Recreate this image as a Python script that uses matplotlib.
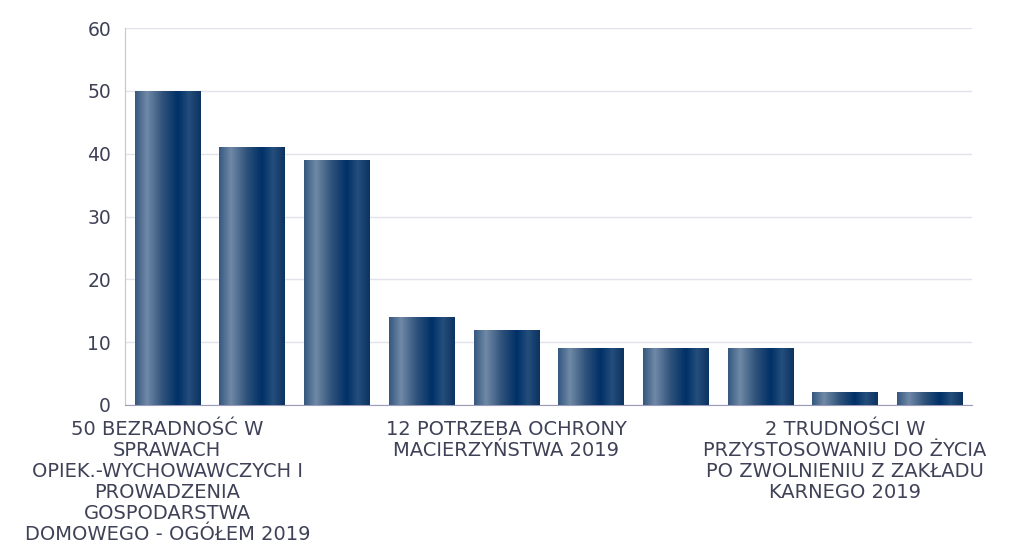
import numpy as np
import matplotlib
matplotlib.use('Agg')
import matplotlib.pyplot as plt
from matplotlib.colors import LinearSegmentedColormap

plt.rcParams['font.family'] = ['DejaVu Sans']

values = [50, 41, 39, 14, 12, 9, 9, 9, 2, 2]
tick_pos = [0, 4, 8]
tick_labels = [
    "50 BEZRADNOŚĆ W\nSPRAWACH\nOPIEK.-WYCHOWAWCZYCH I\nPROWADZENIA\nGOSPODARSTWA\nDOMOWEGO - OGÓŁEM 2019",
    "12 POTRZEBA OCHRONY\nMACIERZYŃSTWA 2019",
    "2 TRUDNOŚCI W\nPRZYSTOSOWANIU DO ŻYCIA\nPO ZWOLNIENIU Z ZAKŁADU\nKARNEGO 2019",
]
y_ticks = [0, 10, 20, 30, 40, 50, 60]

text_color = '#3f4257'
# gradient poziomy na słupkach: jaśniej z lewej, granat z prawej
grad = LinearSegmentedColormap.from_list('bar', [
    (0.0, '#35587f'),
    (0.18, '#7089a7'),
    (0.42, '#2f527a'),
    (0.65, '#003068'),
    (0.82, '#244e7c'),
    (1.0, '#0d3360'),
])

fig = plt.figure(figsize=(10.1, 5.5), dpi=100)
ax = fig.add_axes([125 / 1010, 1 - 405 / 550, 847 / 1010, 377 / 550])

x = np.arange(len(values))
bars = ax.bar(x, values, width=0.77, color='none', zorder=3)
img = np.linspace(0, 1, 256).reshape(1, -1)
for b in bars:
    x0, y0 = b.get_x(), b.get_y()
    w, h = b.get_width(), b.get_height()
    im = ax.imshow(img, cmap=grad, aspect='auto', extent=[x0, x0 + w, y0, y0 + h],
                   zorder=3, interpolation='bilinear')
    im.set_clip_path(b)

ax.set_xlim(-0.5, len(values) - 0.5)
ax.set_ylim(0, 60)
ax.set_yticks(y_ticks)
ax.set_xticks(tick_pos)
ax.set_xticklabels(tick_labels, linespacing=1.13, fontsize=14)
ax.tick_params(axis='both', length=0, colors=text_color)
ax.tick_params(axis='y', labelsize=13.5, pad=10)
ax.tick_params(axis='x', pad=11)
ax.grid(axis='y', color='#e2e2ec', linewidth=1, zorder=0)

for s in ['top', 'right']:
    ax.spines[s].set_visible(False)
ax.spines['left'].set_color('#c4c6d8')
ax.spines['bottom'].set_color('#9c9cb8')

fig.savefig('out.png', dpi=100)
